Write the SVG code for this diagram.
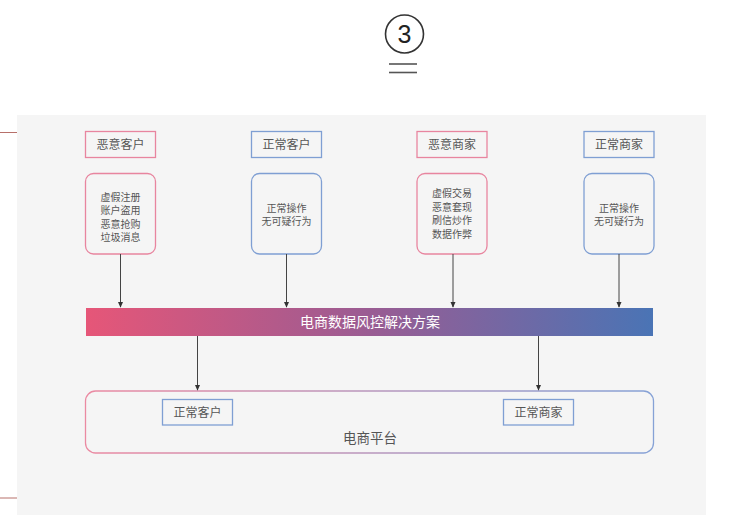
<svg xmlns="http://www.w3.org/2000/svg" width="740" height="529" viewBox="0 0 740 529">
<defs>
<style>
.t{font-family:"Noto Sans CJK SC","Noto Sans",sans-serif;fill:#555;text-anchor:middle}
.pk{fill:none;stroke:#e8859f;stroke-width:1.3}
.bl{fill:none;stroke:#7f9fd3;stroke-width:1.3}
.ln{stroke:#444;stroke-width:1;fill:none}
</style>
<linearGradient id="bar" x1="0" y1="0" x2="1" y2="0">
<stop offset="0" stop-color="#e65678"/>
<stop offset="0.5" stop-color="#9a5c93"/>
<stop offset="1" stop-color="#4a74b5"/>
</linearGradient>
<linearGradient id="plat" x1="85" y1="0" x2="653" y2="0" gradientUnits="userSpaceOnUse">
<stop offset="0" stop-color="#eb8aa2"/>
<stop offset="1" stop-color="#86a2d6"/>
</linearGradient>
<marker id="ah" viewBox="0 0 8 8" refX="7" refY="4" markerWidth="6" markerHeight="6" orient="auto" markerUnits="userSpaceOnUse">
<path d="M0,0.5 L8,4 L0,7.5 z" fill="#333"/>
</marker>
</defs>
<rect width="740" height="529" fill="#fff"/>
<rect x="17" y="115" width="689" height="400" fill="#f5f5f5"/>
<line x1="0" y1="132.5" x2="17" y2="132.5" stroke="#b7706a" stroke-width="1"/>
<line x1="0" y1="498" x2="17" y2="498" stroke="#b7706a" stroke-width="1"/>
<g id="badge">
<circle cx="404.5" cy="34" r="19" fill="none" stroke="#333" stroke-width="1.6"/>
<text x="404.5" y="43" font-family="'Liberation Sans',sans-serif" font-size="25" fill="#222" text-anchor="middle">3</text>
<line x1="389" y1="64" x2="417" y2="64" stroke="#555" stroke-width="1.6"/>
<line x1="389" y1="72.5" x2="417" y2="72.5" stroke="#555" stroke-width="1.6"/>
</g>
<g id="n1">
<rect class="pk" x="85.5" y="131.5" width="70" height="26"/>
<text class="t" x="120.5" y="149" font-size="12">恶意客户</text>
<rect class="pk" x="85.5" y="173.5" width="70" height="80.5" rx="8"/>
<text class="t" font-size="10"><tspan x="120.5" y="200.5">虚假注册</tspan><tspan x="120.5" y="214">账户盗用</tspan><tspan x="120.5" y="227.5">恶意抢购</tspan><tspan x="120.5" y="241">垃圾消息</tspan></text>
</g>
<g id="n2">
<rect class="bl" x="251.5" y="131.5" width="70" height="26"/>
<text class="t" x="286.5" y="149" font-size="12">正常客户</text>
<rect class="bl" x="251.5" y="173.5" width="70" height="80.5" rx="8"/>
<text class="t" font-size="10"><tspan x="286.5" y="211.5">正常操作</tspan><tspan x="286.5" y="225">无可疑行为</tspan></text>
</g>
<g id="n3">
<rect class="pk" x="417" y="131.5" width="70" height="26"/>
<text class="t" x="452" y="149" font-size="12">恶意商家</text>
<rect class="pk" x="417" y="173.5" width="70" height="80.5" rx="8"/>
<text class="t" font-size="10"><tspan x="452" y="197">虚假交易</tspan><tspan x="452" y="210.5">恶意套现</tspan><tspan x="452" y="224">刷信炒作</tspan><tspan x="452" y="237.5">数据作弊</tspan></text>
</g>
<g id="n4">
<rect class="bl" x="584" y="131.5" width="70" height="26"/>
<text class="t" x="619" y="149" font-size="12">正常商家</text>
<rect class="bl" x="584" y="173.5" width="70" height="80.5" rx="8"/>
<text class="t" font-size="10"><tspan x="619" y="211.5">正常操作</tspan><tspan x="619" y="225">无可疑行为</tspan></text>
</g>
<g id="bar-node">
<rect x="86" y="308" width="567" height="28" fill="url(#bar)"/>
<text x="370" y="327" font-family="'Noto Sans CJK SC',sans-serif" font-size="14" fill="#fff" text-anchor="middle">电商数据风控解决方案</text>
</g>
<g id="platform">
<rect x="85.5" y="391" width="568" height="62" rx="10" fill="none" stroke="url(#plat)" stroke-width="1.3"/>
<text class="t" x="370" y="443" font-size="13.5">电商平台</text>
</g>
<g id="p1">
<rect class="bl" x="162.5" y="399.5" width="70" height="25.5"/>
<text class="t" x="197.5" y="416.5" font-size="12">正常客户</text>
</g>
<g id="p2">
<rect class="bl" x="503.5" y="399.5" width="70" height="25.5"/>
<text class="t" x="538.5" y="416.5" font-size="12">正常商家</text>
</g>
<g id="connectors">
<line class="ln" x1="120.5" y1="254" x2="120.5" y2="307" marker-end="url(#ah)"/>
<line class="ln" x1="286.5" y1="254" x2="286.5" y2="307" marker-end="url(#ah)"/>
<line class="ln" x1="453" y1="254" x2="453" y2="307" marker-end="url(#ah)"/>
<line class="ln" x1="619" y1="254" x2="619" y2="307" marker-end="url(#ah)"/>
<line class="ln" x1="197.5" y1="336" x2="197.5" y2="390" marker-end="url(#ah)"/>
<line class="ln" x1="538.5" y1="336" x2="538.5" y2="390" marker-end="url(#ah)"/>
</g>
</svg>
